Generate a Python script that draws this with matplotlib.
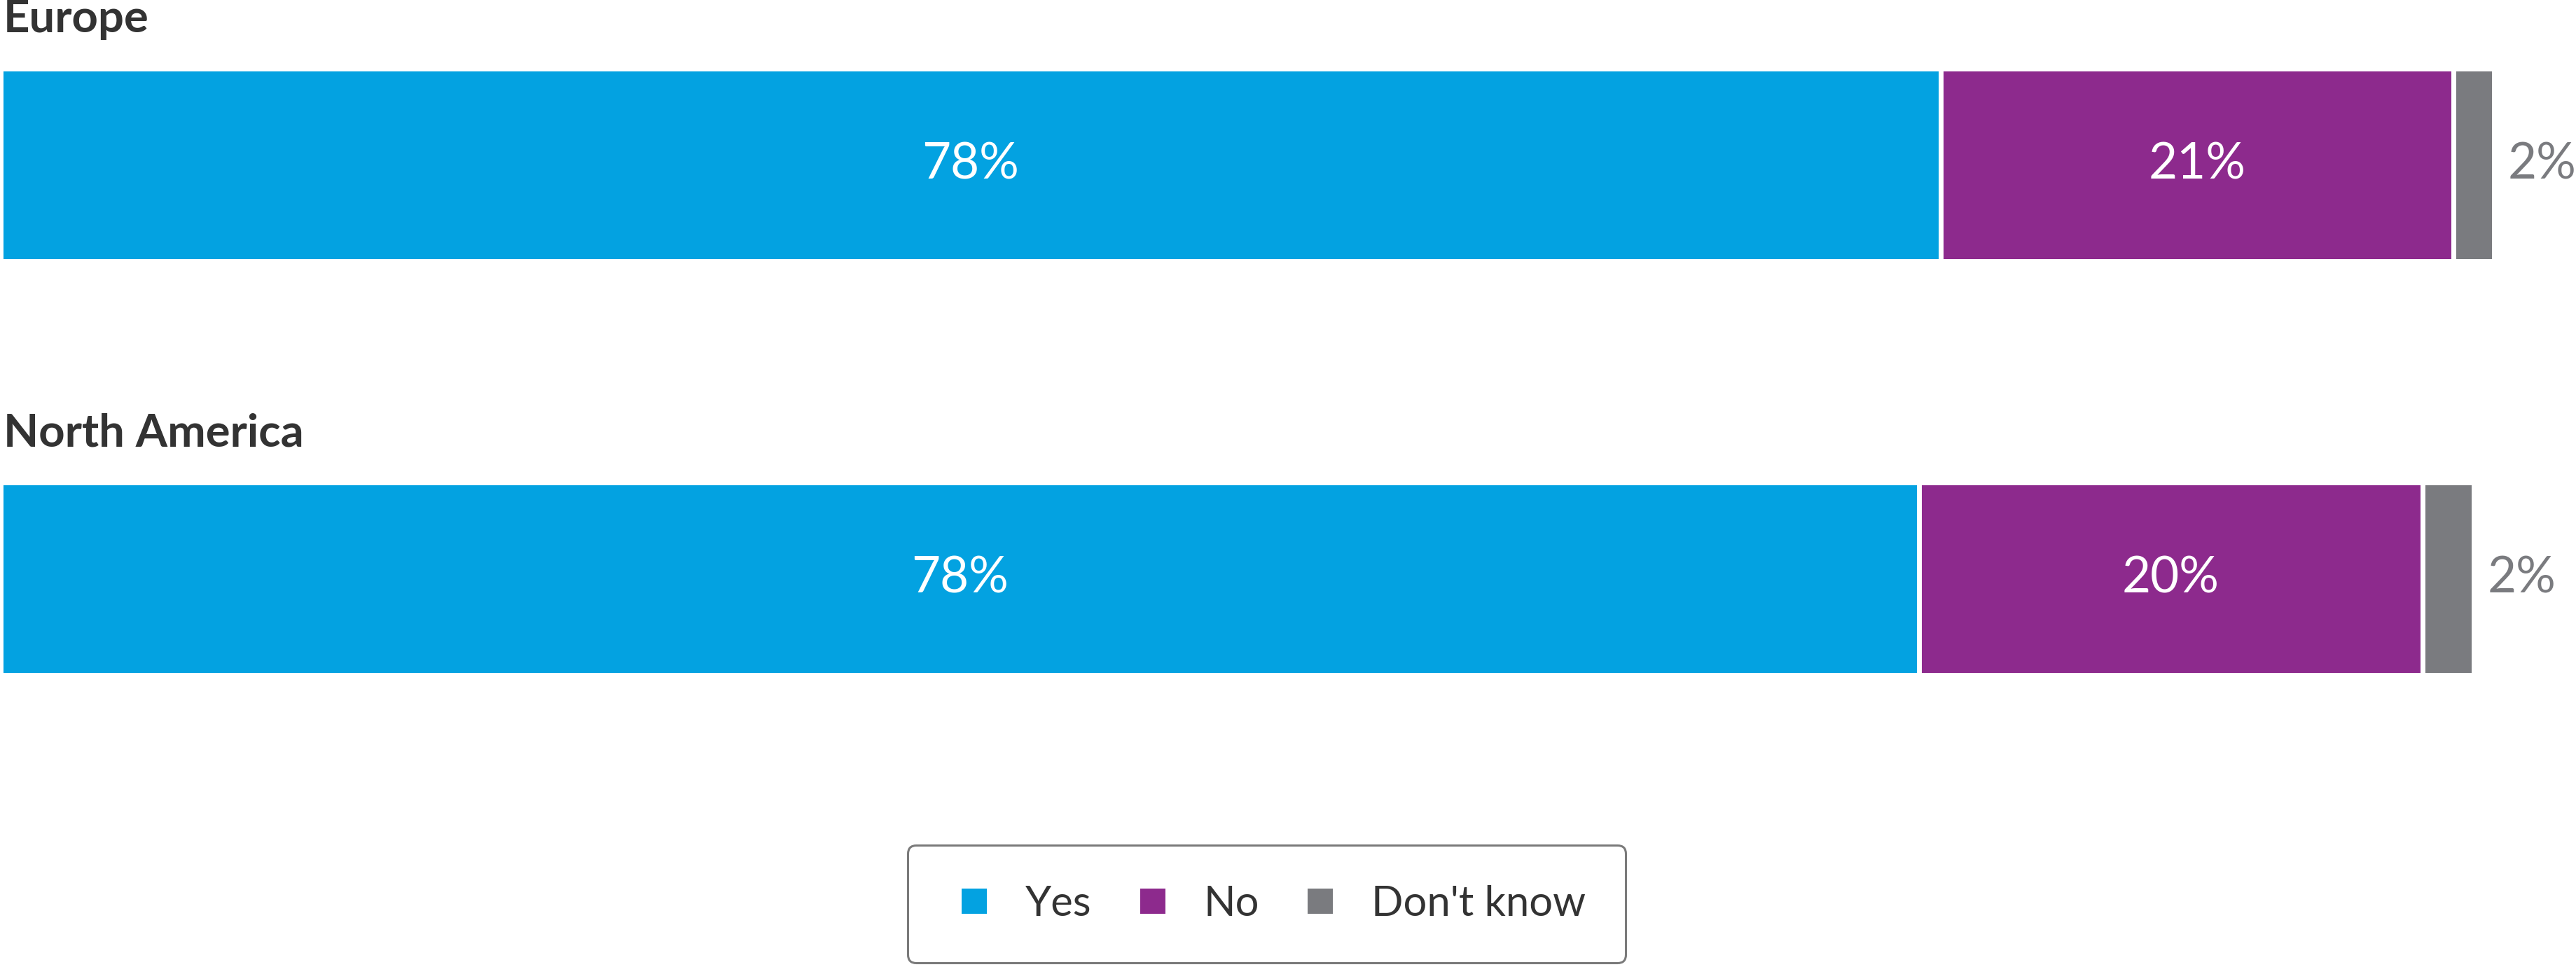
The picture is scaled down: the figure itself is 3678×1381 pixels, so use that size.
import matplotlib
matplotlib.use('Agg')
import matplotlib.pyplot as plt
from matplotlib.lines import Line2D

# data (share of respondents, %)
regions = ['Europe', 'North America']
answers = ['Yes', 'No', "Don't know"]
yes = [78.47, 77.6]
no = [20.75, 20.35]
dont_know = [1.64, 2.08]

colors = ['#03a2e1', '#8d2a8d', '#7a7b7f']
text_dark = '#333333'

plt.rcParams['font.family'] = ['Lato', 'DejaVu Sans']

W, H = 3678, 1381
fig = plt.figure(figsize=(W / 100, H / 100), dpi=100)
ax = fig.add_axes([0, 0, 1, 1])

# axis in pixel-like units vertically, percent horizontally
px_per_pct = 35.3
ax.set_xlim(-1 / px_per_pct, (W - 1) / px_per_pct)
ax.set_ylim(H, 0)
ax.axis('off')

y_pos = [235, 826]
bar_h = 275

series = [yes, no, dont_know]
lefts = [0.0] * len(regions)
for values, name, col in zip(series, answers, colors):
    ax.barh(y_pos, values, left=lefts, height=bar_h, color=col,
            edgecolor='white', linewidth=5, label=name)
    for i, v in enumerate(values):
        label = f"{round(v)}%"
        if v > 5:
            ax.text(lefts[i] + v / 2, y_pos[i], label, color='white',
                    fontsize=51, ha='center', va='center')
        else:
            ax.annotate(label, (lefts[i] + v, y_pos[i]), xytext=(14, 0),
                        textcoords='offset points', color=col,
                        fontsize=51, ha='left', va='center',
                        annotation_clip=False)
    lefts = [l + v for l, v in zip(lefts, values)]

# region titles above each bar
for name, y in zip(regions, y_pos):
    ax.text(4 / px_per_pct, y - 189, name, fontsize=47, fontweight='bold',
            color=text_dark, ha='left', va='baseline')

handles = [Line2D([], [], marker='s', linestyle='none', markersize=26,
                  markerfacecolor=c, markeredgewidth=0) for c in colors]
leg = fig.legend(handles, answers, loc='center', ncol=3,
                 bbox_to_anchor=(1808.5 / W, 1 - 1291 / H),
                 fontsize=43, frameon=True, fancybox=True,
                 handlelength=1.27, handletextpad=0.58, columnspacing=0.83,
                 borderpad=0.96, labelcolor=text_dark)
frame = leg.get_frame()
frame.set_edgecolor('#7a7a7a')
frame.set_linewidth(2.2)
frame.set_alpha(1)

fig.savefig('out.png', dpi=100)
